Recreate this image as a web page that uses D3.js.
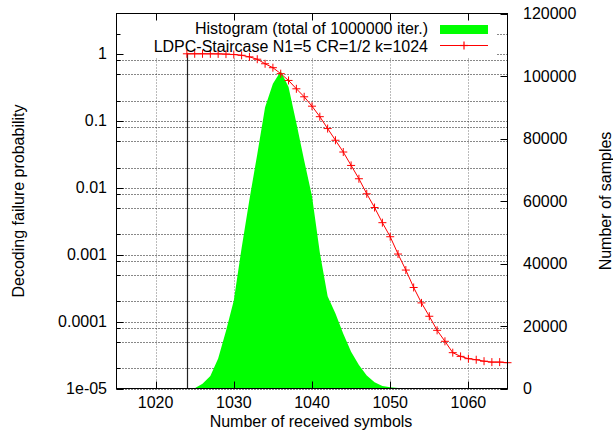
<!DOCTYPE html>
<html><head><meta charset="utf-8">
<script src="https://cdn.jsdelivr.net/npm/d3@7"></script>
<style>body{margin:0;background:#fff}svg{display:block;font-family:"Liberation Sans",Arial,Helvetica,sans-serif}</style>
</head><body><svg id="c" width="613" height="441"></svg>
<script>
// Data
const symbols = [1024,1025,1026,1027,1028,1029,1030,1031,1032,1033,1034,1035,1036,1037,1038,1039,1040,1041,1042,1043,1044,1045,1046,1047,1048,1049,1050,1051,1052,1053,1054,1055,1056,1057,1058,1059,1060,1061,1062,1063,1064,1065];
const failureProb = [1.0,1.0,1.0,0.999,0.997,0.99,0.975,0.95,0.90,0.83,0.71,0.62,0.505,0.40,0.30,0.228,0.165,0.115,0.0764,0.0511,0.0341,0.0215,0.0136,0.0081,0.00505,0.0030,0.00185,0.00102,0.000588,0.000323,0.00019,0.00012,7.4e-5,5.07e-5,3.43e-5,3.02e-5,2.79e-5,2.69e-5,2.56e-5,2.48e-5,2.48e-5,2.43e-5];
const histSymbols = [1024,1025,1026,1027,1028,1029,1030,1031,1032,1033,1034,1035,1036,1037,1038,1039,1040,1041,1042,1043,1044,1045,1046,1047,1048,1049,1050,1051,1052,1053,1054,1055];
const histCounts = [0,100,1500,4000,9600,18400,28200,45000,60500,75000,90000,97500,101500,96500,85000,73000,61500,43500,29500,24000,17500,11800,7500,4200,2000,800,400,200,100,50,20,0];
const xTicks = [1020,1030,1040,1050,1060];
const yTicks = [1,0.1,0.01,0.001,0.0001,1e-5];
const yTickLabels = ["1","0.1","0.01","0.001","0.0001","1e-05"];
const yMinorMult = [2,5,8];
const y2Ticks = [0,20000,40000,60000,80000,100000,120000];
const legendLabels = ["Histogram (total of 1000000 iter.)","LDPC-Staircase N1=5 CR=1/2 k=1024"];

const L=116.5, R=507.5, T=13.5, B=388.5;
const svg = d3.select("#c");
const x = d3.scaleLinear().domain([1015,1065]).range([L,R]);
const y = d3.scaleLog().domain([1e-5,4]).range([B,T]);
const y2 = d3.scaleLinear().domain([0,120000]).range([B,T]);

const minorVals = [];
for (let e=-6;e<=0;e++) yMinorMult.forEach(m=>{const v=m*Math.pow(10,e); if(v>=1e-5&&v<=4) minorVals.push(v);});

// grid
const grid = svg.append("g").attr("stroke-dasharray","1,2").attr("stroke-width",1);
xTicks.forEach(t=>grid.append("line").attr("x1",Math.round(x(t))+0.5).attr("x2",Math.round(x(t))+0.5).attr("y1",T).attr("y2",B).attr("stroke","#777"));
yTicks.concat(minorVals).forEach(t=>grid.append("line").attr("x1",L).attr("x2",R).attr("y1",Math.round(y(t))+0.5).attr("y2",Math.round(y(t))+0.5).attr("stroke","#111"));

// legend opaque box
svg.append("rect").attr("x",118).attr("y",16).attr("width",379).attr("height",41).attr("fill","#fff");

// histogram
const area = d3.area().x((d,i)=>x(histSymbols[i])).y0(y2(0)).y1(d=>y2(d));
svg.append("path").datum(histCounts).attr("d",area).attr("fill","#00ff00");

// vertical line at first symbol
svg.append("line").attr("x1",Math.round(x(symbols[0]))+0.5).attr("x2",Math.round(x(symbols[0]))+0.5)
  .attr("y1",y(failureProb[0])).attr("y2",B).attr("stroke","#222").attr("stroke-width",1.2);

// red curve
const line = d3.line().x((d,i)=>x(symbols[i])).y(d=>y(d));
svg.append("path").datum(failureProb).attr("d",line).attr("fill","none").attr("stroke","#ff0000").attr("stroke-width",1);
const plus = (g,cx,cy)=>{g.append("line").attr("x1",cx-4).attr("x2",cx+4).attr("y1",cy).attr("y2",cy);g.append("line").attr("x1",cx).attr("x2",cx).attr("y1",cy-4).attr("y2",cy+4);};
const mk = svg.append("g").attr("stroke","#ff0000").attr("stroke-width",1);
failureProb.forEach((d,i)=>plus(mk,x(symbols[i]),y(d)));

// legend content
const lg = svg.append("g").attr("font-size",16).attr("fill","#000");
lg.append("text").attr("x",428).attr("y",33.5).attr("text-anchor","end").text(legendLabels[0]);
lg.append("text").attr("x",428).attr("y",51.5).attr("text-anchor","end").text(legendLabels[1]);
svg.append("rect").attr("x",440).attr("y",25).attr("width",48).attr("height",9).attr("fill","#00ff00");
const lgLine = svg.append("g").attr("stroke","#ff0000").attr("stroke-width",1.2);
lgLine.append("line").attr("x1",440).attr("x2",488).attr("y1",45.5).attr("y2",45.5);
plus(lgLine,464,45.5);

// frame & ticks
const ax = svg.append("g").attr("stroke","#000").attr("stroke-width",1);
ax.append("rect").attr("x",L).attr("y",T).attr("width",R-L).attr("height",B-T).attr("fill","none");
xTicks.forEach(t=>{const px=Math.round(x(t))+0.5;ax.append("line").attr("x1",px).attr("x2",px).attr("y1",B).attr("y2",B-7);ax.append("line").attr("x1",px).attr("x2",px).attr("y1",T).attr("y2",T+7);});
yTicks.forEach(t=>{const py=Math.round(y(t))+0.5;ax.append("line").attr("x1",L).attr("x2",L+7).attr("y1",py).attr("y2",py);});
minorVals.forEach(t=>{const py=Math.round(y(t))+0.5;ax.append("line").attr("x1",L).attr("x2",L+4).attr("y1",py).attr("y2",py);});
y2Ticks.forEach(t=>{const py=Math.round(y2(t))+0.5;ax.append("line").attr("x1",R).attr("x2",R-7).attr("y1",py).attr("y2",py);});

// tick labels
const tl = svg.append("g").attr("font-size",16).attr("fill","#000");
xTicks.forEach(t=>tl.append("text").attr("x",x(t)).attr("y",408).attr("text-anchor","middle").text(t));
yTicks.forEach((t,i)=>tl.append("text").attr("x",107).attr("y",y(t)).attr("dy","0.35em").attr("text-anchor","end").text(yTickLabels[i]));
y2Ticks.forEach(t=>tl.append("text").attr("x",523).attr("y",y2(t)).attr("dy","0.35em").attr("text-anchor","start").text(t));

// axis titles
tl.append("text").attr("x",311).attr("y",427).attr("text-anchor","middle").text("Number of received symbols");
tl.append("text").attr("transform","translate(24,201) rotate(-90)").attr("text-anchor","middle").text("Decoding failure probability");
tl.append("text").attr("transform","translate(611,201) rotate(-90)").attr("text-anchor","middle").text("Number of samples");
</script></body></html>
